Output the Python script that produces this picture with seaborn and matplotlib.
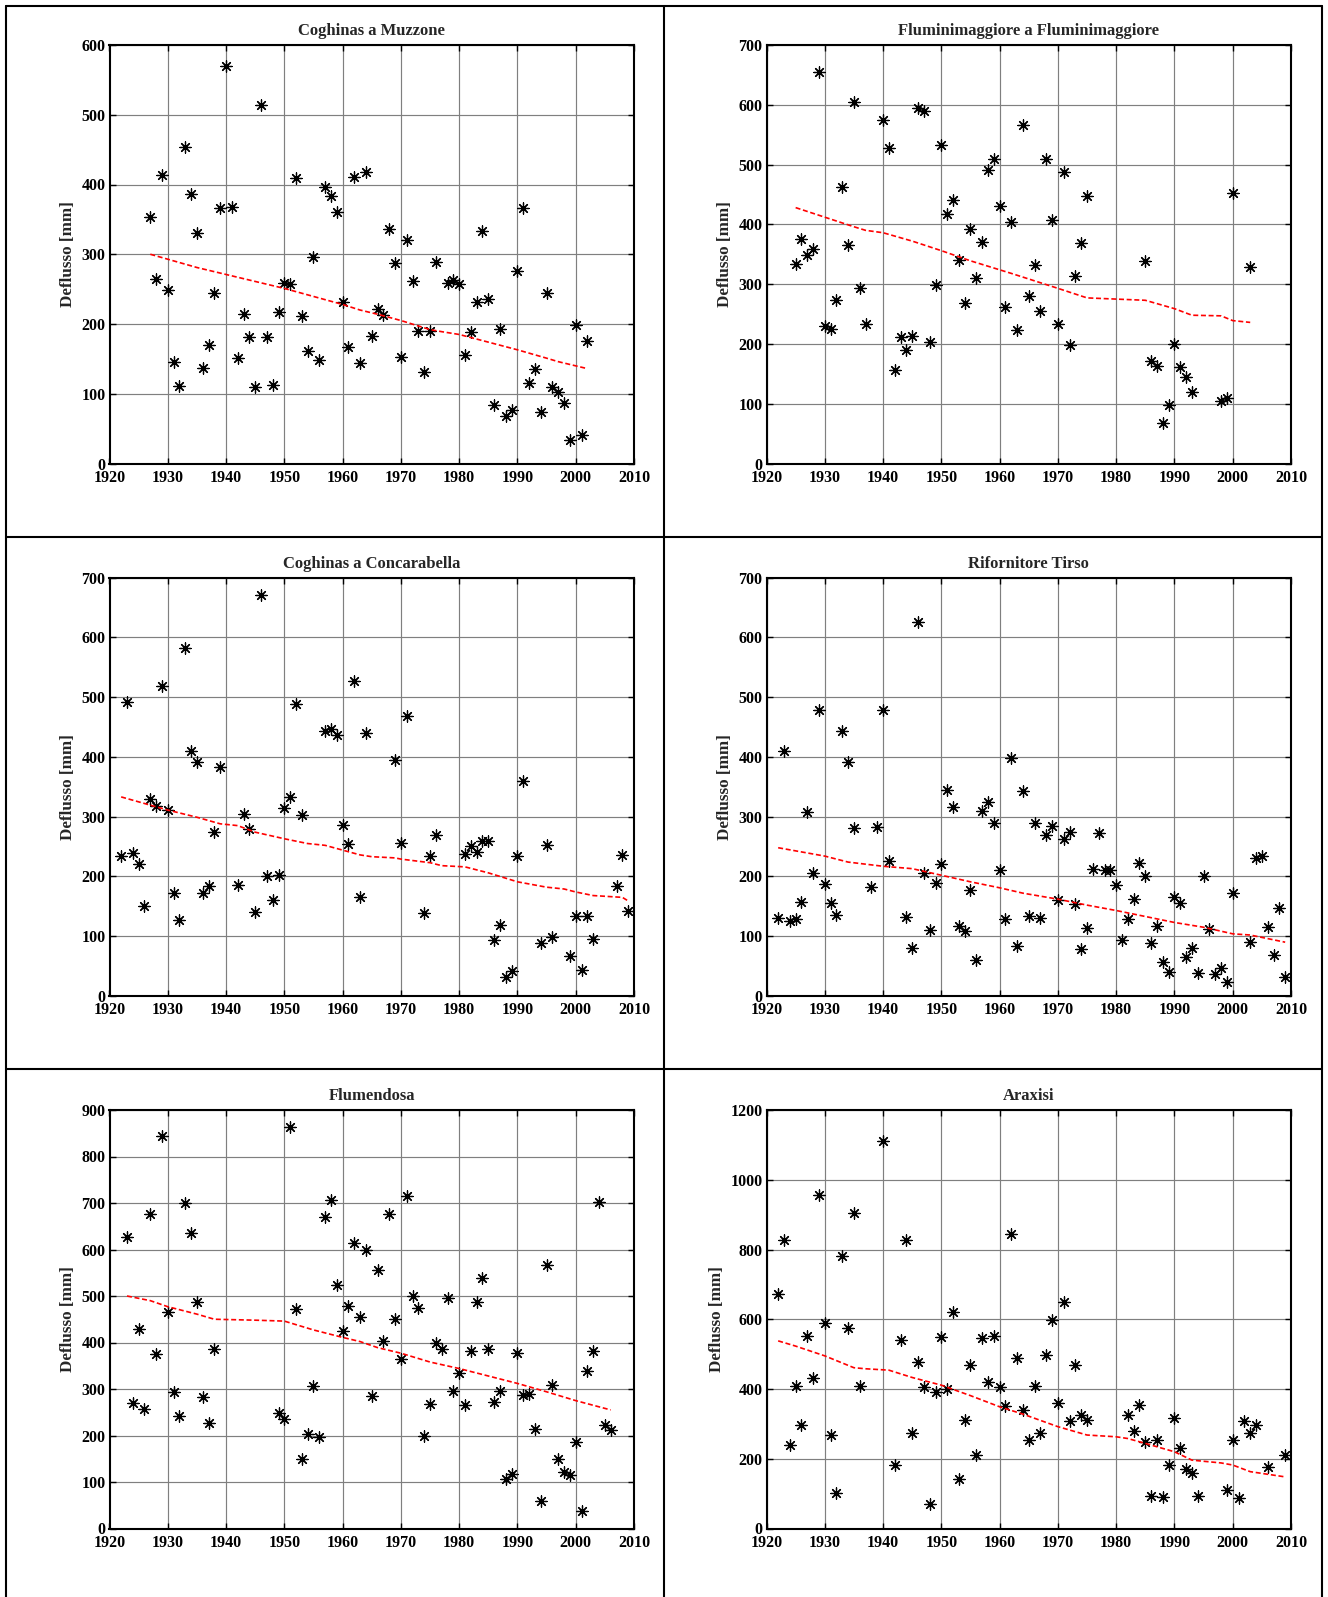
"""
Deflussi annui delle stazioni sarde con linea di tendenza.
Sei pannelli disposti a tabella, salvati in out.png.
"""

import matplotlib
matplotlib.use("Agg")   # niente finestra
import matplotlib.pyplot as plt
from matplotlib.lines import Line2D
import seaborn as sns
import pandas as pd

# ─────────────────────────────────────────────────────────
# Dati
# ─────────────────────────────────────────────────────────
MUZZONE_ANNI = [1927, 1928, 1929, 1930, 1931, 1932, 1933, 1934, 1935, 1936, 1937, 1938, 1939,
                1940, 1941, 1942, 1943, 1944, 1945, 1946, 1947, 1948, 1949, 1950, 1951, 1952,
                1953, 1954, 1955, 1956, 1957, 1958, 1959, 1960, 1961, 1962, 1963, 1964, 1965,
                1966, 1967, 1968, 1969, 1970, 1971, 1972, 1973, 1974, 1975, 1976, 1978, 1979,
                1980, 1981, 1982, 1983, 1984, 1985, 1986, 1987, 1988, 1989, 1990, 1991, 1992,
                1993, 1994, 1995, 1996, 1997, 1998, 1999, 2000, 2001, 2002]
MUZZONE_DEFL = [353, 265, 413, 249, 146, 111, 454, 387, 331, 137, 170, 245, 366,
                570, 368, 151, 214, 182, 109, 514, 181, 112, 217, 259, 257, 410,
                212, 161, 296, 149, 396, 384, 360, 232, 167, 411, 144, 418, 183,
                221, 213, 336, 288, 153, 320, 262, 190, 131, 190, 289, 259, 263,
                258, 155, 188, 231, 333, 236, 84, 193, 68, 77, 276, 367, 115,
                136, 74, 245, 109, 103, 87, 34, 198, 41, 176]
MUZZONE_TREND_ANNI = [1927, 1935, 1940, 1950, 1960, 1963, 1966, 1970, 1975, 1977,
                      1980, 1985, 1990, 1995, 1997, 2002]
MUZZONE_TREND = [300, 281, 271, 251, 228, 220, 214, 205, 192, 189,
                 185, 174, 163, 151, 146, 136]

FLUMINI_ANNI = [1925, 1926, 1927, 1928, 1929, 1930, 1931, 1932, 1933, 1934, 1935, 1936, 1937,
                1940, 1941, 1942, 1943, 1944, 1945, 1946, 1947, 1948, 1949, 1950, 1951, 1952,
                1953, 1954, 1955, 1956, 1957, 1958, 1959, 1960, 1961, 1962, 1963, 1964, 1965,
                1966, 1967, 1968, 1969, 1970, 1971, 1972, 1973, 1974, 1975, 1985, 1986, 1987,
                1988, 1989, 1990, 1991, 1992, 1993, 1998, 1999, 2000, 2003]
FLUMINI_DEFL = [334, 375, 349, 358, 655, 230, 225, 273, 463, 366, 605, 294, 233,
                574, 528, 156, 212, 190, 213, 595, 589, 204, 298, 533, 418, 441,
                340, 269, 392, 311, 371, 491, 509, 430, 262, 404, 223, 567, 280,
                332, 255, 510, 407, 233, 488, 198, 314, 369, 447, 339, 172, 163,
                68, 98, 200, 161, 145, 120, 104, 109, 452, 329]
FLUMINI_TREND_ANNI = [1925, 1930, 1935, 1937, 1940, 1945, 1950, 1955, 1960, 1962,
                      1970, 1975, 1985, 1990, 1993, 1998, 2000, 2003]
FLUMINI_TREND = [428, 412, 396, 390, 386, 372, 356, 339, 324, 318,
                 293, 277, 273, 259, 248, 247, 239, 236]

CONCA_ANNI = [1922, 1923, 1924, 1925, 1926, 1927, 1928, 1929, 1930, 1931, 1932, 1933, 1934,
              1935, 1936, 1937, 1938, 1939, 1942, 1943, 1944, 1945, 1946, 1947, 1948, 1949,
              1950, 1951, 1952, 1953, 1957, 1958, 1959, 1960, 1961, 1962, 1963, 1964, 1969,
              1970, 1971, 1974, 1975, 1976, 1981, 1982, 1983, 1984, 1985, 1986, 1987, 1988,
              1989, 1990, 1991, 1994, 1995, 1996, 1999, 2000, 2001, 2002, 2003, 2007, 2008,
              2009]
CONCA_DEFL = [235, 492, 239, 221, 151, 330, 317, 519, 311, 172, 127, 582, 410,
              392, 173, 184, 274, 383, 186, 305, 279, 141, 671, 200, 160, 203,
              315, 333, 489, 302, 443, 447, 436, 286, 254, 527, 166, 440, 394,
              256, 468, 138, 235, 269, 237, 251, 241, 259, 259, 94, 119, 32,
              42, 235, 360, 88, 252, 99, 67, 134, 43, 134, 96, 184, 236,
              143]
CONCA_TREND_ANNI = [1922, 1930, 1935, 1939, 1942, 1945, 1950, 1954, 1957, 1960, 1963,
                    1965, 1969, 1970, 1975, 1977, 1981, 1985, 1990, 1995, 1998, 2000,
                    2003, 2008, 2009]
CONCA_TREND = [333, 311, 299, 288, 285, 274, 263, 255, 252, 244, 236,
               233, 231, 229, 223, 218, 216, 206, 191, 182, 179, 174,
               168, 165, 159]

TIRSO_ANNI = [1922, 1923, 1924, 1925, 1926, 1927, 1928, 1929, 1930, 1931, 1932, 1933, 1934,
              1935, 1938, 1939, 1940, 1941, 1944, 1945, 1946, 1947, 1948, 1949, 1950, 1951,
              1952, 1953, 1954, 1955, 1956, 1957, 1958, 1959, 1960, 1961, 1962, 1963, 1964,
              1965, 1966, 1967, 1968, 1969, 1970, 1971, 1972, 1973, 1974, 1975, 1976, 1977,
              1978, 1979, 1980, 1981, 1982, 1983, 1984, 1985, 1986, 1987, 1988, 1989, 1990,
              1991, 1992, 1993, 1994, 1995, 1996, 1997, 1998, 1999, 2000, 2003, 2004, 2005,
              2006, 2007, 2008, 2009]
TIRSO_DEFL = [131, 410, 125, 128, 157, 308, 206, 478, 188, 156, 136, 444, 392,
              281, 182, 283, 478, 225, 132, 80, 625, 205, 111, 189, 221, 344,
              316, 117, 109, 177, 61, 310, 324, 289, 210, 128, 398, 84, 343,
              134, 289, 130, 270, 284, 160, 262, 274, 154, 79, 113, 213, 273,
              211, 211, 185, 93, 128, 163, 223, 200, 89, 117, 57, 40, 165,
              156, 65, 80, 39, 200, 112, 36, 46, 23, 172, 90, 230, 235,
              116, 68, 148, 31]
TIRSO_TREND_ANNI = [1922, 1930, 1934, 1940, 1945, 1950, 1955, 1960, 1964, 1970,
                    1975, 1980, 1985, 1990, 1995, 2000, 2003, 2006, 2009]
TIRSO_TREND = [248, 234, 224, 217, 213, 202, 191, 181, 172, 162,
               152, 143, 133, 123, 115, 104, 102, 96, 90]

FLUMENDOSA_ANNI = [1923, 1924, 1925, 1926, 1927, 1928, 1929, 1930, 1931, 1932, 1933, 1934,
                   1935, 1936, 1937, 1938, 1949, 1950, 1951, 1952, 1953, 1954, 1955, 1956,
                   1957, 1958, 1959, 1960, 1961, 1962, 1963, 1964, 1965, 1966, 1967, 1968,
                   1969, 1970, 1971, 1972, 1973, 1974, 1975, 1976, 1977, 1978, 1979, 1980,
                   1981, 1982, 1983, 1984, 1985, 1986, 1987, 1988, 1989, 1990, 1991, 1992,
                   1993, 1994, 1995, 1996, 1997, 1998, 1999, 2000, 2001, 2002, 2003, 2004,
                   2005, 2006]
FLUMENDOSA_DEFL = [626, 269, 429, 257, 677, 375, 844, 465, 293, 242, 701, 636,
                   488, 282, 227, 387, 249, 235, 863, 473, 149, 204, 307, 196,
                   669, 706, 524, 424, 478, 613, 455, 598, 285, 556, 404, 677,
                   450, 364, 714, 500, 475, 199, 267, 400, 387, 495, 296, 334,
                   265, 382, 488, 539, 385, 272, 296, 107, 118, 377, 288, 289,
                   215, 60, 567, 308, 149, 122, 115, 186, 37, 339, 381, 702,
                   223, 212]
FLUMENDOSA_TREND_ANNI = [1923, 1927, 1930, 1935, 1938, 1945, 1950, 1955, 1960, 1963,
                         1966, 1970, 1975, 1980, 1985, 1990, 1995, 2000, 2006]
FLUMENDOSA_TREND = [500, 490, 477, 461, 450, 448, 446, 427, 411, 402,
                    389, 377, 358, 344, 328, 312, 294, 275, 255]

ARAXISI_ANNI = [1922, 1923, 1924, 1925, 1926, 1927, 1928, 1929, 1930, 1931, 1932, 1933, 1934,
                1935, 1936, 1940, 1942, 1943, 1944, 1945, 1946, 1947, 1948, 1949, 1950, 1951,
                1952, 1953, 1954, 1955, 1956, 1957, 1958, 1959, 1960, 1961, 1962, 1963, 1964,
                1965, 1966, 1967, 1968, 1969, 1970, 1971, 1972, 1973, 1974, 1975, 1982, 1983,
                1984, 1985, 1986, 1987, 1988, 1989, 1990, 1991, 1992, 1993, 1994, 1999, 2000,
                2001, 2002, 2003, 2004, 2006, 2009]
ARAXISI_DEFL = [673, 826, 240, 409, 297, 551, 431, 955, 590, 269, 102, 782, 576,
                904, 410, 1112, 183, 541, 826, 273, 476, 406, 70, 390, 549, 400,
                622, 142, 312, 468, 210, 545, 421, 551, 405, 351, 844, 489, 341,
                254, 410, 275, 498, 597, 359, 649, 308, 468, 326, 312, 326, 280,
                353, 247, 93, 253, 91, 183, 318, 231, 170, 158, 94, 110, 254,
                88, 308, 273, 297, 175, 211]
ARAXISI_TREND_ANNI = [1922, 1925, 1930, 1935, 1937, 1941, 1945, 1950, 1955, 1960, 1964,
                      1970, 1975, 1980, 1982, 1985, 1990, 1993, 1998, 2000, 2003, 2009]
ARAXISI_TREND = [538, 523, 495, 461, 458, 454, 433, 411, 381, 349, 328,
                 292, 268, 263, 258, 244, 220, 196, 188, 182, 163, 148]

# Titoli e limiti dell'asse y per ogni pannello
STAZIONI = [
    ("Coghinas a Muzzone", MUZZONE_ANNI, MUZZONE_DEFL, MUZZONE_TREND_ANNI, MUZZONE_TREND, 600, 100),
    ("Fluminimaggiore a Fluminimaggiore", FLUMINI_ANNI, FLUMINI_DEFL, FLUMINI_TREND_ANNI, FLUMINI_TREND, 700, 100),
    ("Coghinas a Concarabella", CONCA_ANNI, CONCA_DEFL, CONCA_TREND_ANNI, CONCA_TREND, 700, 100),
    ("Rifornitore Tirso", TIRSO_ANNI, TIRSO_DEFL, TIRSO_TREND_ANNI, TIRSO_TREND, 700, 100),
    ("Flumendosa", FLUMENDOSA_ANNI, FLUMENDOSA_DEFL, FLUMENDOSA_TREND_ANNI, FLUMENDOSA_TREND, 900, 100),
    ("Araxisi", ARAXISI_ANNI, ARAXISI_DEFL, ARAXISI_TREND_ANNI, ARAXISI_TREND, 1200, 200),
]

# Stile (dopo set_theme, che altrimenti reimposta il font)
sns.set_theme(style="ticks")
plt.rcParams.update({
    "font.family": ["Liberation Serif", "DejaVu Serif"],
    "font.weight": "bold",
    "axes.labelweight": "bold",
    "axes.titleweight": "bold",
    "figure.facecolor": "white",
    "axes.facecolor": "white",
})

W, H = 1328, 1597
COL_X = [109.5, 766.5]        # bordo sinistro degli assi (pixel)
RIGHE_Y = [45, 577.5, 1110]   # bordo superiore degli assi (pixel)
LARG, ALT = 524.5, 418.5


def grafico_stazione(ax, titolo, anni, deflussi, anni_trend, trend, ymax, passo):
    """Dispersione dei deflussi annui (asterischi) + tendenza rossa tratteggiata."""
    df = pd.DataFrame({"anno": anni, "deflusso": deflussi})
    dt = pd.DataFrame({"anno": anni_trend, "trend": trend})

    sns.scatterplot(data=df, x="anno", y="deflusso", ax=ax,
                    marker=(8, 2, 0), color="black", s=66, linewidth=0.9, zorder=3)
    sns.lineplot(data=dt, x="anno", y="trend", ax=ax,
                 color="red", linewidth=1.2, zorder=4)
    ax.lines[-1].set_dashes([3, 1.6])

    ax.set_xlim(1920, 2010)
    ax.set_ylim(0, ymax)
    ax.set_xticks(range(1920, 2011, 10))
    ax.set_yticks(range(0, ymax + 1, passo))
    ax.grid(True, color="#7f7f7f", linewidth=0.85)
    ax.set_axisbelow(True)
    ax.tick_params(direction="in", top=True, right=True, length=4, width=1,
                   labelsize=11.5, colors="black")
    ax.tick_params(axis="x", pad=4.5)
    ax.tick_params(axis="y", pad=3)
    for s in ax.spines.values():
        s.set_linewidth(1.5)
        s.set_color("black")

    ax.set_title(titolo, fontsize=12, fontweight="bold", pad=7)
    ax.set_xlabel("")
    ax.set_ylabel("Deflusso [mm]", fontsize=12.3, fontweight="bold", labelpad=4)


fig = plt.figure(figsize=(W / 100, H / 100), dpi=100)

for i, (titolo, anni, defl, ta, tv, ymax, passo) in enumerate(STAZIONI):
    x0 = COL_X[i % 2]
    y0 = RIGHE_Y[i // 2]
    ax = fig.add_axes([x0 / W, 1 - (y0 + ALT) / H, LARG / W, ALT / H])
    grafico_stazione(ax, titolo, anni, defl, ta, tv, ymax, passo)

# Bordi della tabella che contiene i pannelli
bordi = [
    ((6, 1322), (6, 6)),          # superiore
    ((6, 6), (6, H)),             # sinistro
    ((1322, 1322), (6, H)),       # destro
    ((664, 664), (6, H)),         # centrale
    ((6, 1322), (537, 537)),
    ((6, 1322), (1069, 1069)),
]
for (xs, ys) in bordi:
    fig.add_artist(Line2D([x / W for x in xs], [1 - y / H for y in ys],
                          color="black", linewidth=1.5))

fig.savefig("out.png", dpi=100)
plt.close(fig)
